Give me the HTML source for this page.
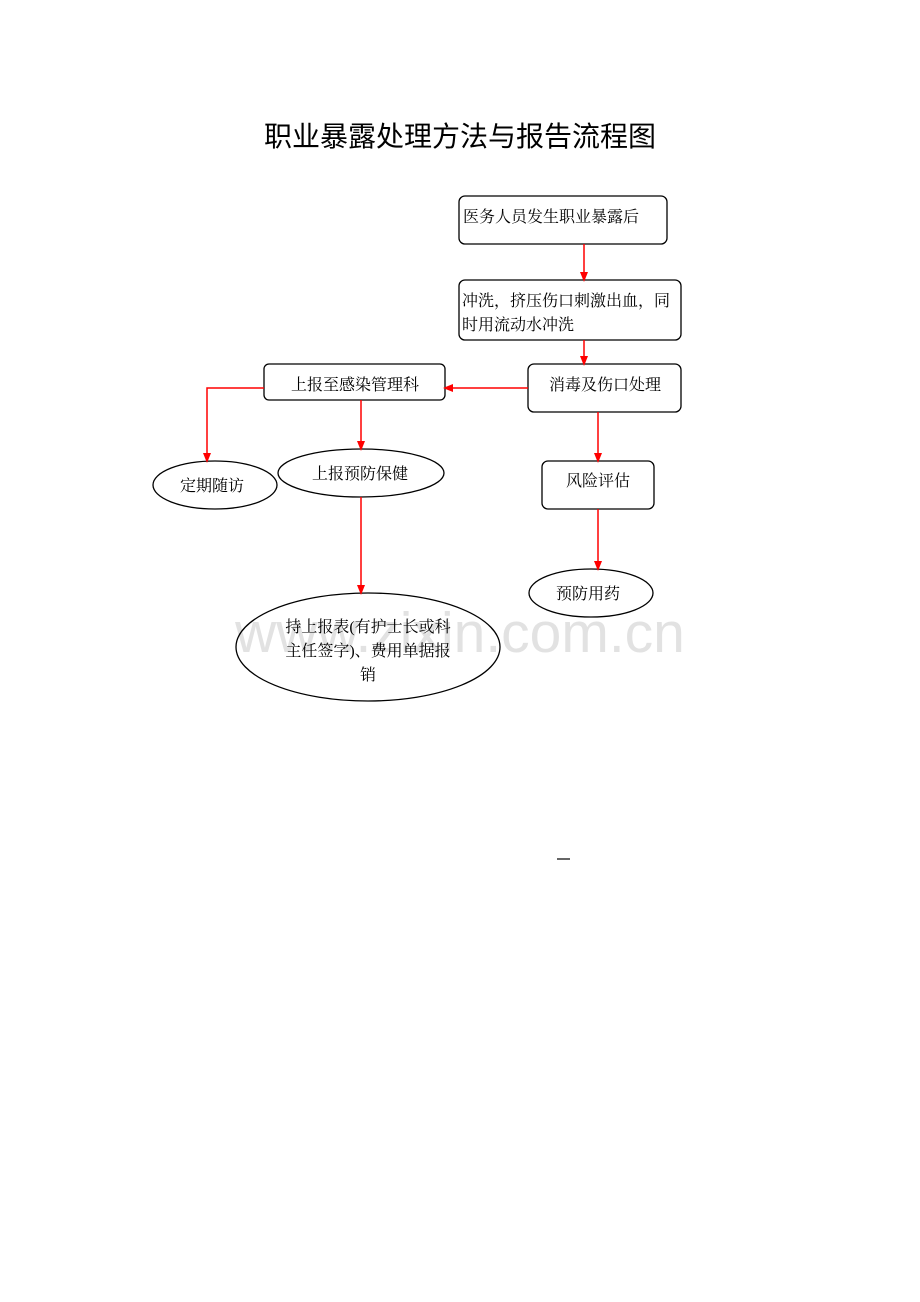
<!DOCTYPE html>
<html><head><meta charset="utf-8"><style>
body{margin:0;background:#fff;}
svg{display:block}
text{font-family:"Liberation Serif","Noto Serif CJK SC",serif;font-size:16px;fill:#000}
</style></head><body>
<svg width="920" height="1302" viewBox="0 0 920 1302" xmlns="http://www.w3.org/2000/svg">
<defs><marker id="a" markerWidth="10" markerHeight="10" refX="5" refY="5" orient="auto" markerUnits="userSpaceOnUse"><path d="M0,1 L10,5 L0,9 Z" fill="#f00"/></marker></defs>
<text x="460" y="146" text-anchor="middle" style="font-family:'Liberation Sans','Noto Sans CJK SC',sans-serif;font-size:28px">职业暴露处理方法与报告流程图</text>
<text x="460" y="652" text-anchor="middle" style="font-family:'Liberation Sans',sans-serif;font-size:57px;fill:#e2e2e2">www.zixin.com.cn</text>
<g fill="none" stroke="#000" stroke-width="1.3">
<rect x="459" y="196" width="208" height="48" rx="6"/>
<rect x="459" y="280" width="222" height="60" rx="6"/>
<rect x="528" y="364" width="153" height="48" rx="6"/>
<rect x="264" y="364" width="181" height="36" rx="5"/>
<rect x="542" y="461" width="112" height="48" rx="6"/>
<ellipse cx="215" cy="485" rx="62" ry="24"/>
<ellipse cx="361" cy="473" rx="83" ry="24"/>
<ellipse cx="591" cy="593" rx="62" ry="24"/>
<ellipse cx="368" cy="647" rx="132" ry="54"/>
</g>
<g stroke="#f00" stroke-width="1.5" fill="none">
<line x1="584" y1="244" x2="584" y2="277" marker-end="url(#a)"/>
<line x1="584" y1="340" x2="584" y2="361" marker-end="url(#a)"/>
<line x1="528" y1="388" x2="448" y2="388" marker-end="url(#a)"/>
<polyline points="264,388 207,388 207,458" marker-end="url(#a)"/>
<line x1="361" y1="400" x2="361" y2="446" marker-end="url(#a)"/>
<line x1="598" y1="412" x2="598" y2="458" marker-end="url(#a)"/>
<line x1="361" y1="497" x2="361" y2="590" marker-end="url(#a)"/>
<line x1="598" y1="509" x2="598" y2="566" marker-end="url(#a)"/>
</g>
<text x="463" y="222">医务人员发生职业暴露后</text>
<text x="462" y="306">冲洗，挤压伤口刺激出血，同</text>
<text x="462" y="330">时用流动水冲洗</text>
<text x="605" y="390" text-anchor="middle">消毒及伤口处理</text>
<text x="355" y="390" text-anchor="middle">上报至感染管理科</text>
<text x="598" y="486" text-anchor="middle">风险评估</text>
<text x="212" y="491" text-anchor="middle">定期随访</text>
<text x="360" y="479" text-anchor="middle">上报预防保健</text>
<text x="588" y="599" text-anchor="middle">预防用药</text>
<text x="368" y="632" text-anchor="middle">持上报表(有护士长或科</text>
<text x="368" y="656" text-anchor="middle">主任签字)、费用单据报</text>
<text x="368" y="680" text-anchor="middle">销</text>
<line x1="557" y1="859" x2="570" y2="859" stroke="#000" stroke-width="1.2"/>
</svg>
</body></html>
